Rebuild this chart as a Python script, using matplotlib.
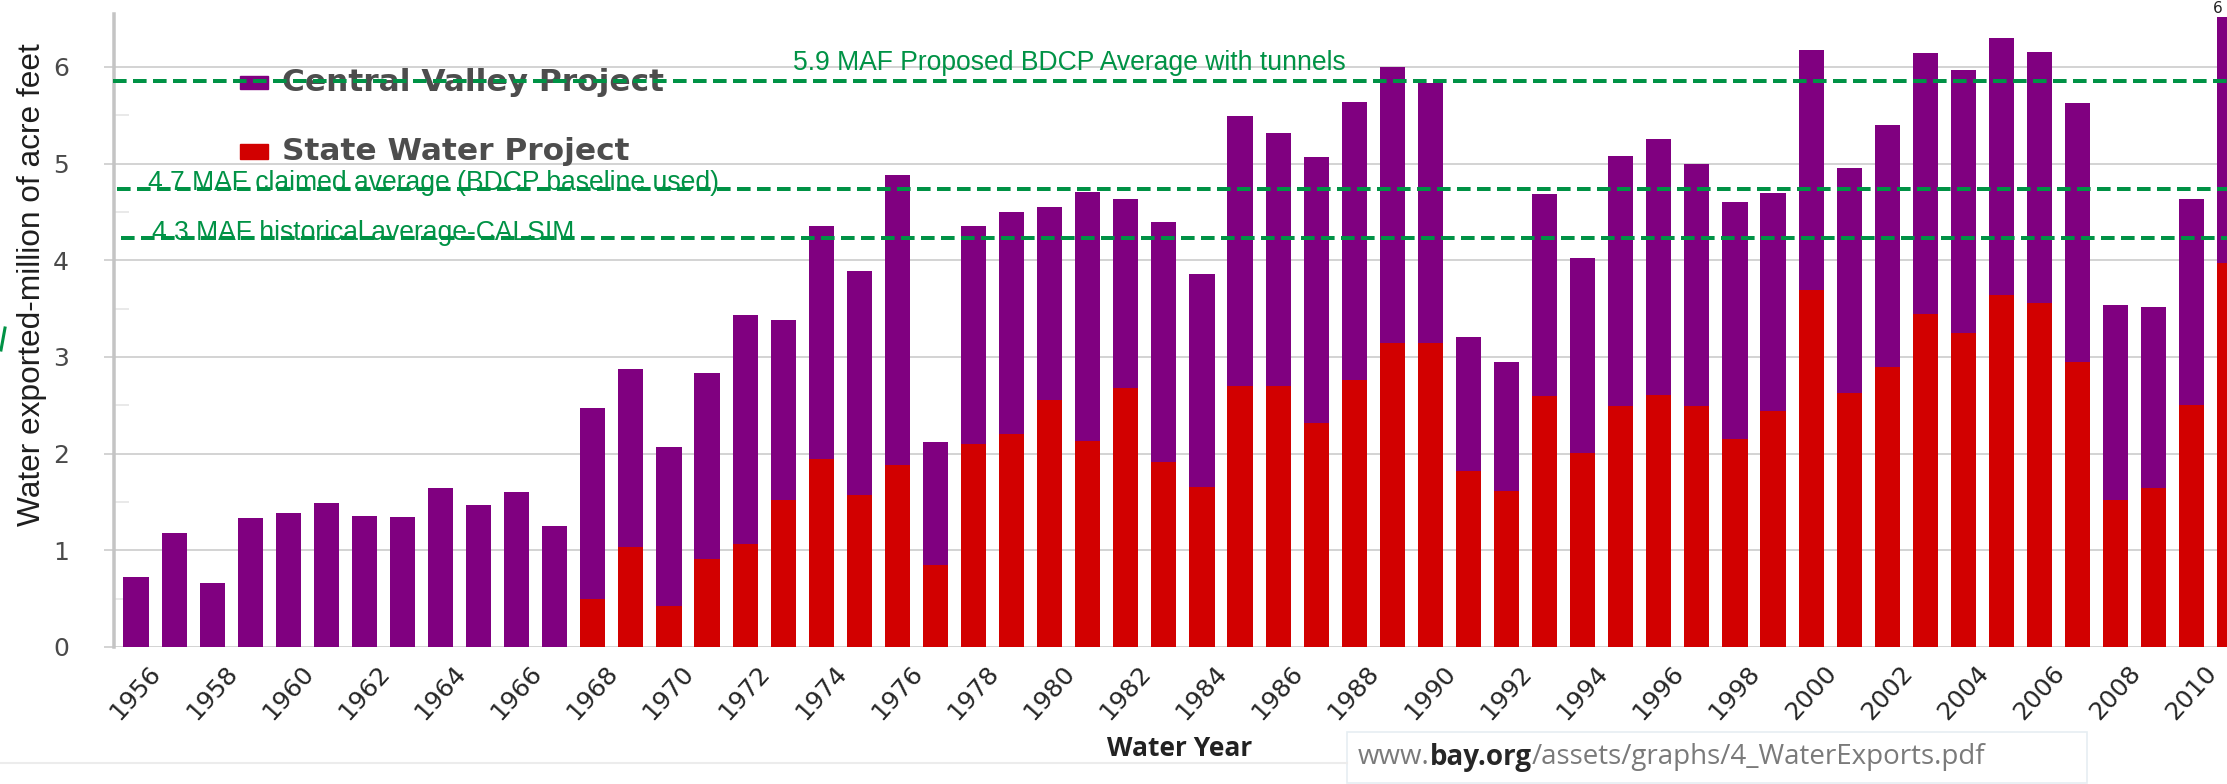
import matplotlib
matplotlib.use('Agg')
import matplotlib.pyplot as plt
from matplotlib.lines import Line2D
from matplotlib.patches import Rectangle
import matplotlib.transforms as mtrans
import numpy as np

# ---------------- data ----------------
years = list(range(1956, 2012))
total_exports = [0.72, 1.18, 0.66, 1.33, 1.39, 1.49, 1.35, 1.34, 1.64, 1.47, 1.60, 1.25,
                 2.47, 2.88, 2.07, 2.83, 3.43, 3.38, 4.36, 3.89, 4.88, 2.12,
                 4.35, 4.50, 4.55, 4.71, 4.63, 4.40, 3.86, 5.49, 5.32, 5.07, 5.64, 6.00,
                 5.83, 3.21, 2.95, 4.69, 4.02, 5.08, 5.25, 5.00, 4.60, 4.70, 6.18, 4.96,
                 5.40, 6.14, 5.97, 6.30, 6.15, 5.63, 3.54, 3.52, 4.63, 6.52]
swp_exports = [0, 0, 0, 0, 0, 0, 0, 0, 0, 0, 0, 0,
               0.50, 1.03, 0.42, 0.91, 1.07, 1.52, 1.94, 1.57, 1.88, 0.85,
               2.10, 2.20, 2.56, 2.13, 2.68, 1.91, 1.66, 2.70, 2.70, 2.32, 2.76, 3.14,
               3.14, 1.82, 1.61, 2.60, 2.01, 2.49, 2.61, 2.49, 2.15, 2.44, 3.69, 2.63,
               2.90, 3.44, 3.25, 3.64, 3.56, 2.95, 1.52, 1.64, 2.50, 3.97]
cvp_exports = [t - s for t, s in zip(total_exports, swp_exports)]
tick_years = list(range(1956, 2011, 2))
y_ticks = [0, 1, 2, 3, 4, 5, 6]
ref_levels = [5.85, 4.74, 4.23]
ref_labels = ["5.9 MAF Proposed BDCP Average with tunnels",
              "4.7 MAF claimed average (BDCP baseline used)",
              "4.3 MAF historical average-CALSIM"]
legend_labels = ["Central Valley Project", "State Water Project"]
y_label = "Water exported-million of acre feet"
x_label = "Water Year"
source_parts = ["www.", "bay.org", "/assets/graphs/4_WaterExports.pdf"]

# ---------------- layout helpers ----------------
W, H = 2227, 784
fig = plt.figure(figsize=(W / 100, H / 100), dpi=100)
fig.patch.set_facecolor('white')


def fx(px):
    return px / W


def fy(py):
    return 1 - py / H


PX0, STEP = 136.0, 38.07  # pixel of first bar centre, pixels per year


def px2x(px):
    return (px - PX0) / STEP


GREEN = '#009245'
PURPLE = '#800080'
RED = '#d20000'
PT = 0.72  # points per pixel at dpi 100

ax = fig.add_axes([fx(114), fy(647), 1 - fx(114), (647 - 14) / H])
ax.set_facecolor('none')
x = np.arange(len(years))
ax.bar(x, swp_exports, width=0.66, color=RED, zorder=3, linewidth=0)
ax.bar(x, cvp_exports, bottom=swp_exports, width=0.66, color=PURPLE, zorder=3, linewidth=0)
ax.set_xlim(px2x(114), px2x(W))
ax.set_ylim(0, (647 - 14) / 96.67)

# axes styling
for s in ['top', 'right', 'bottom']:
    ax.spines[s].set_visible(False)
ax.spines['left'].set_color('#c4c4c4')
ax.spines['left'].set_linewidth(3.5 * PT)
ax.set_yticks(y_ticks)
ax.set_yticklabels([str(v) for v in y_ticks], fontsize=18, color='#4a4a4a',
                   family='DejaVu Sans')
ax.yaxis.grid(True, color='#d4d4d4', linewidth=2 * PT, zorder=0)
ax.set_axisbelow(True)
ax.tick_params(axis='y', length=10 * PT, width=2 * PT, color='#d4d4d4', pad=35 * PT)
ax.set_yticks(np.arange(0.5, 6.5, 1.0), minor=True)
ax.tick_params(axis='y', which='minor', direction='in', length=15 * PT,
               width=1.5 * PT, color='#e2e2e2')

ax.set_xticks([years.index(y) for y in tick_years])
ax.set_xticklabels([str(y) for y in tick_years], rotation=48, ha='right',
                   rotation_mode='anchor', fontsize=18, color='#262626',
                   family='DejaVu Sans')
ax.tick_params(axis='x', length=0, pad=14 * PT)
offset = mtrans.ScaledTranslation(12 / 100, 0, fig.dpi_scale_trans)
for lab in ax.get_xticklabels():
    lab.set_transform(lab.get_transform() + offset)

# legend (inside axes so that dashed lines are drawn over it)
for (label, col, y0, y1) in [(legend_labels[0], PURPLE, 76, 89),
                             (legend_labels[1], RED, 144, 159)]:
    ax.add_patch(Rectangle((fx(240), fy(y1)), fx(268) - fx(240), fy(y0) - fy(y1),
                           transform=fig.transFigure, color=col, clip_on=False, zorder=4))
    ax.text(fx(282), fy((y0 + y1) / 2), label, transform=fig.transFigure,
            fontsize=22.5, fontweight='bold', color='#4d4d4d', va='center', ha='left',
            family='DejaVu Sans', zorder=4, clip_on=False)

# reference dashed lines and labels
line_starts = [113, 117, 121]
text_x = [793, 148, 152]
text_base = [5.97, 4.73, 4.21]
for lvl, xs, lab, tx, tb in zip(ref_levels, line_starts, ref_labels, text_x, text_base):
    ax.plot([px2x(xs), px2x(W + 5)], [lvl, lvl], color=GREEN, linewidth=4 * PT,
            linestyle=(0, (3.4, 1.6)), zorder=6, clip_on=False,
            solid_capstyle='butt', dash_capstyle='butt')
    ax.text(px2x(tx), tb, lab, color=GREEN, fontsize=19.1, family='Liberation Sans',
            va='baseline', ha='left', zorder=5)

# axis titles
fig.text(fx(32), fy(285), y_label, rotation=90, fontsize=22.8, family='Liberation Sans',
         color='#1e1e1e', ha='center', va='center')
fig.text(fx(1180), fy(748), x_label, fontsize=19, fontweight='bold', family='Open Sans',
         color='#222222', ha='center', va='center')

# source line
fig.canvas.draw()
renderer = fig.canvas.get_renderer()
cur = 1358
cols = ['#7a7a7a', '#262626', '#7a7a7a']
weights = ['normal', 'bold', 'normal']
for part, c, wgt in zip(source_parts, cols, weights):
    t = fig.text(fx(cur), fy(757), part, fontsize=20, family='Open Sans', color=c,
                 fontweight=wgt, ha='left', va='center')
    bb = t.get_window_extent(renderer)
    cur += bb.width

fig.add_artist(Rectangle((fx(1347), fy(783)), fx(2087) - fx(1347), fy(732) - fy(783),
                         transform=fig.transFigure, fill=False, edgecolor='#e6eef2',
                         linewidth=1.2))
fig.add_artist(Line2D([0, fx(1347)], [fy(763), fy(763)], color='#ececec', linewidth=1.5))

# small artefacts
fig.add_artist(Line2D([fx(1), fx(5)], [fy(350), fy(328)], color=GREEN, linewidth=2.2))
fig.text(fx(2213), fy(1), '6', fontsize=11, color='#222222', ha='left', va='top')

fig.savefig('out.png', dpi=100, facecolor='white')
